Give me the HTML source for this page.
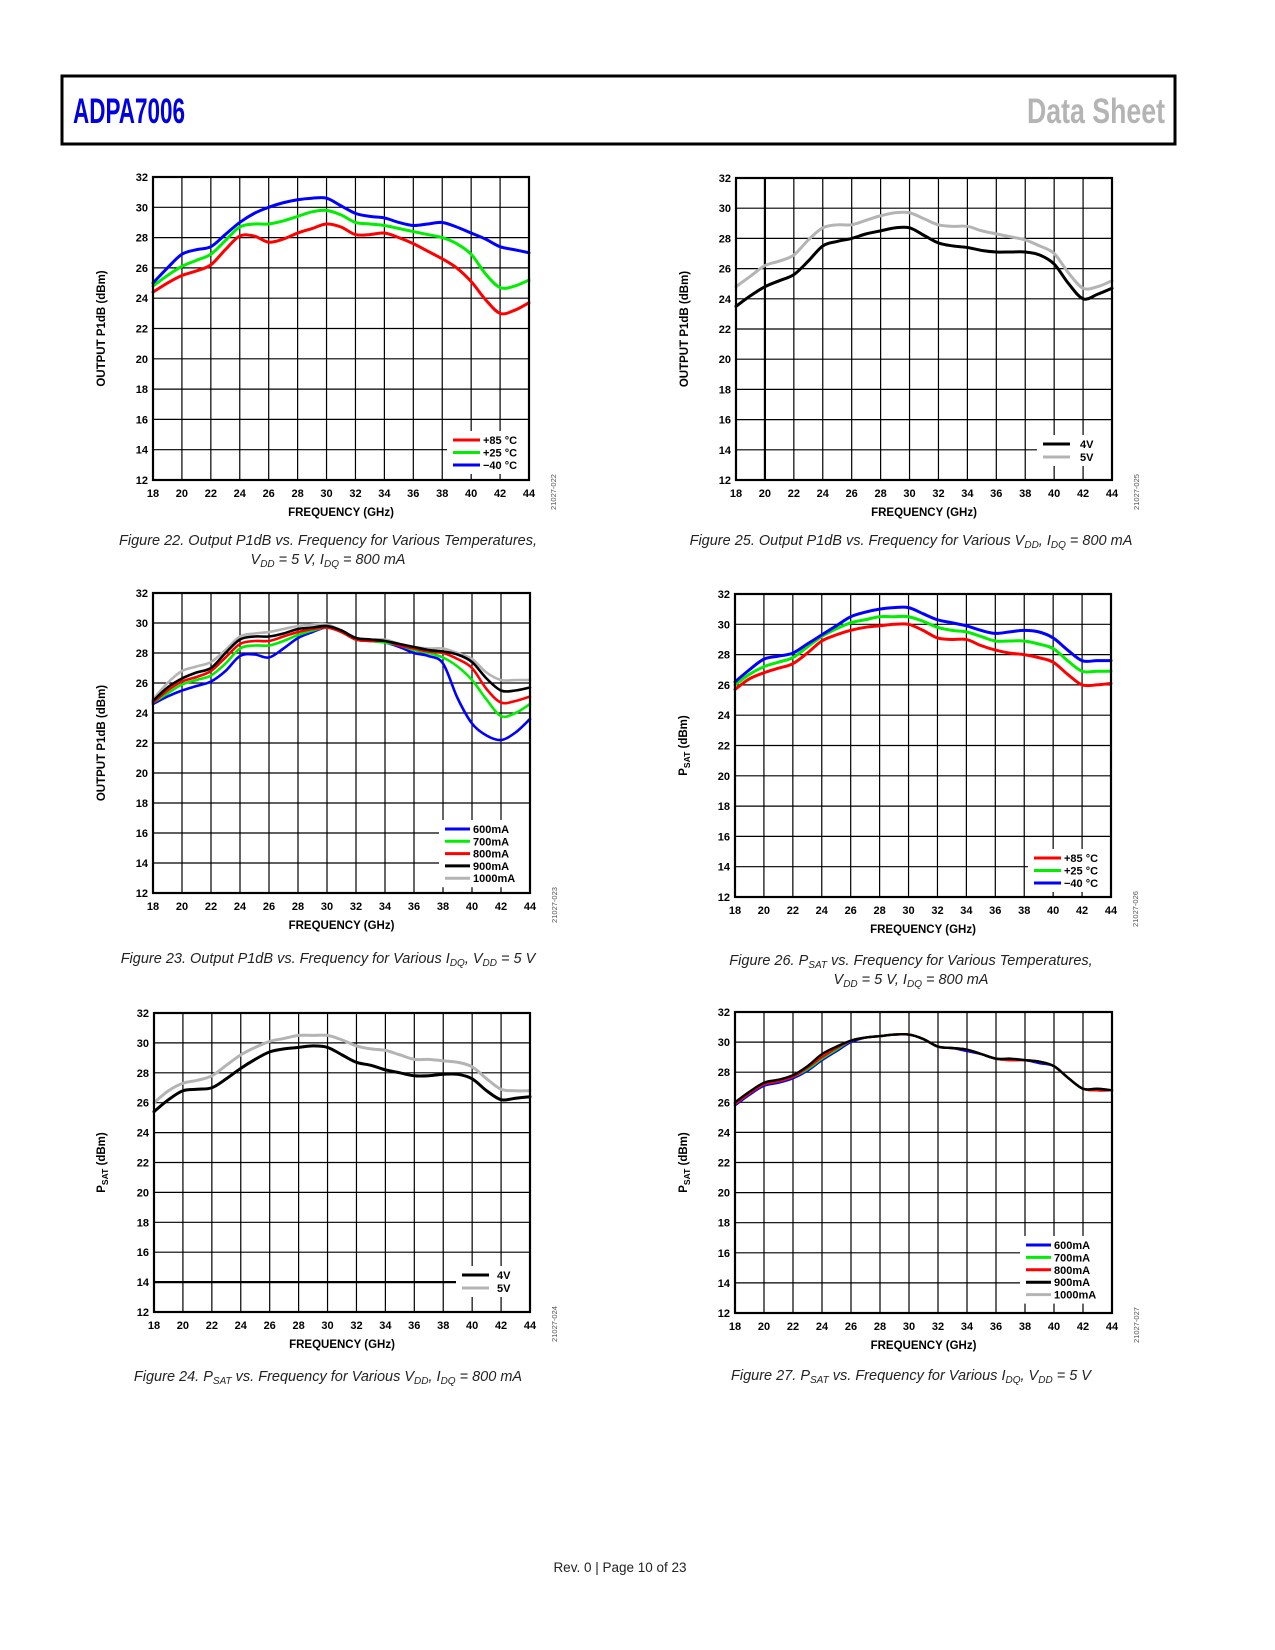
<!DOCTYPE html>
<html><head><meta charset="utf-8"><title>ADPA7006 Data Sheet p10</title>
<style>
html,body{margin:0;padding:0;background:#fff;}
svg{display:block;}
text{font-family:"Liberation Sans",Arial,sans-serif;}
.tick{font-size:11px;font-weight:bold;fill:#000;}
.axt{font-size:11.5px;font-weight:bold;fill:#000;}
.cap{font-size:14.5px;font-style:italic;fill:#222;}
.leg{font-size:11px;font-weight:bold;fill:#000;}
.idn{font-size:7.5px;fill:#555;}
</style></head>
<body>
<svg id="page" width="1275" height="1650" viewBox="0 0 1275 1650" xmlns="http://www.w3.org/2000/svg">
<rect x="62" y="76" width="1113" height="68" fill="none" stroke="#000" stroke-width="3"/>
<text x="73" y="123" font-size="35" font-weight="bold" fill="#0000e0" textLength="112" lengthAdjust="spacingAndGlyphs">ADPA7006</text>
<text x="1027" y="123" font-size="35" font-weight="bold" fill="#b4b4b4" textLength="138" lengthAdjust="spacingAndGlyphs">Data Sheet</text>

<text class="cap" x="328" y="545" text-anchor="middle">Figure 22. Output P1dB vs. Frequency for Various Temperatures,</text>
<text class="cap" x="328" y="564" text-anchor="middle">V<tspan font-size="10" dy="3">DD</tspan><tspan dy="-3"> = 5 V, I</tspan><tspan font-size="10" dy="3">DQ</tspan><tspan dy="-3"> = 800 mA</tspan></text>
<text class="cap" x="911" y="545" text-anchor="middle">Figure 25. Output P1dB vs. Frequency for Various V<tspan font-size="10" dy="3">DD</tspan><tspan dy="-3">, I</tspan><tspan font-size="10" dy="3">DQ</tspan><tspan dy="-3"> = 800 mA</tspan></text>
<text class="cap" x="328" y="963" text-anchor="middle">Figure 23. Output P1dB vs. Frequency for Various I<tspan font-size="10" dy="3">DQ</tspan><tspan dy="-3">, V</tspan><tspan font-size="10" dy="3">DD</tspan><tspan dy="-3"> = 5 V</tspan></text>
<text class="cap" x="911" y="965" text-anchor="middle">Figure 26. P<tspan font-size="10" dy="3">SAT</tspan><tspan dy="-3"> vs. Frequency for Various Temperatures,</tspan></text>
<text class="cap" x="911" y="984" text-anchor="middle">V<tspan font-size="10" dy="3">DD</tspan><tspan dy="-3"> = 5 V, I</tspan><tspan font-size="10" dy="3">DQ</tspan><tspan dy="-3"> = 800 mA</tspan></text>
<text class="cap" x="328" y="1381" text-anchor="middle">Figure 24. P<tspan font-size="10" dy="3">SAT</tspan><tspan dy="-3"> vs. Frequency for Various V</tspan><tspan font-size="10" dy="3">DD</tspan><tspan dy="-3">, I</tspan><tspan font-size="10" dy="3">DQ</tspan><tspan dy="-3"> = 800 mA</tspan></text>
<text class="cap" x="911" y="1380" text-anchor="middle">Figure 27. P<tspan font-size="10" dy="3">SAT</tspan><tspan dy="-3"> vs. Frequency for Various I</tspan><tspan font-size="10" dy="3">DQ</tspan><tspan dy="-3">, V</tspan><tspan font-size="10" dy="3">DD</tspan><tspan dy="-3"> = 5 V</tspan></text>

<text x="620" y="1572" font-size="13.5" fill="#222" text-anchor="middle">Rev. 0 | Page 10 of 23</text>
</svg>
<script>
const freqs=[18,19,20,21,22,23,24,25,26,27,28,29,30,31,32,33,34,35,36,37,38,39,40,41,42,43,44];
const xTickLabels=["18","20","22","24","26","28","30","32","34","36","38","40","42","44"];
const yTickLabels=["12","14","16","18","20","22","24","26","28","30","32"];

const f22_p85=[24.4,25.0,25.5,25.8,26.2,27.2,28.1,28.1,27.7,27.9,28.3,28.6,28.9,28.7,28.2,28.2,28.3,28.0,27.6,27.1,26.6,26.0,25.1,23.9,23.0,23.2,23.7];
const f22_p25=[24.8,25.5,26.1,26.5,26.9,27.8,28.7,28.9,28.9,29.1,29.4,29.7,29.8,29.5,29.0,28.9,28.8,28.6,28.4,28.2,28.0,27.6,26.9,25.6,24.7,24.8,25.2];
const f22_m40=[25.0,26.0,26.9,27.2,27.4,28.2,29.0,29.6,30.0,30.3,30.5,30.6,30.6,30.1,29.6,29.4,29.3,29.0,28.8,28.9,29.0,28.7,28.3,27.9,27.4,27.2,27.0];

const f25_4v=[23.5,24.2,24.8,25.2,25.6,26.5,27.5,27.8,28.0,28.3,28.5,28.7,28.7,28.2,27.7,27.5,27.4,27.2,27.1,27.1,27.1,26.9,26.3,25.0,24.0,24.3,24.7];
const f25_5v=[24.8,25.5,26.2,26.5,26.9,27.9,28.7,28.9,28.9,29.2,29.5,29.7,29.7,29.3,28.9,28.8,28.8,28.5,28.3,28.1,27.9,27.5,27.0,25.7,24.7,24.8,25.2];

const f23_600=[24.6,25.1,25.5,25.8,26.1,26.8,27.8,27.9,27.7,28.3,29.0,29.4,29.7,29.4,28.9,28.8,28.7,28.4,28.0,27.8,27.3,25.0,23.3,22.5,22.2,22.7,23.6];
const f23_700=[24.7,25.3,25.9,26.2,26.5,27.3,28.3,28.5,28.5,28.8,29.2,29.5,29.7,29.4,28.9,28.8,28.7,28.5,28.2,28.0,27.7,27.1,26.2,24.9,23.8,24.0,24.6];
const f23_800=[24.7,25.5,26.1,26.4,26.8,27.7,28.6,28.8,28.8,29.1,29.4,29.6,29.7,29.4,28.9,28.8,28.8,28.5,28.3,28.1,28.0,27.6,27.0,25.6,24.7,24.8,25.1];
const f23_900=[24.8,25.7,26.3,26.7,27.0,28.0,28.9,29.1,29.1,29.3,29.6,29.7,29.8,29.5,29.0,28.9,28.8,28.6,28.4,28.2,28.1,27.9,27.4,26.3,25.5,25.5,25.7];
const f23_1000=[24.9,26.0,26.8,27.1,27.4,28.2,29.1,29.3,29.4,29.6,29.8,29.9,29.9,29.5,29.0,28.9,28.9,28.6,28.4,28.3,28.3,28.0,27.6,26.7,26.2,26.2,26.2];

const f26_p85=[25.7,26.4,26.8,27.1,27.4,28.1,28.9,29.3,29.6,29.8,29.9,30.0,30.0,29.6,29.1,29.0,29.0,28.6,28.3,28.1,28.0,27.8,27.5,26.7,26.0,26.0,26.1];
const f26_p25=[26.0,26.7,27.2,27.5,27.8,28.5,29.2,29.7,30.1,30.3,30.5,30.5,30.5,30.2,29.8,29.6,29.5,29.2,28.9,28.9,28.9,28.7,28.4,27.6,26.9,26.9,26.9];
const f26_m40=[26.2,27.0,27.7,27.9,28.1,28.7,29.3,29.9,30.5,30.8,31.0,31.1,31.1,30.7,30.3,30.1,29.9,29.6,29.4,29.5,29.6,29.5,29.1,28.3,27.6,27.6,27.6];

const f24_4v=[25.4,26.2,26.8,26.9,27.0,27.6,28.3,28.9,29.4,29.6,29.7,29.8,29.7,29.2,28.7,28.5,28.2,28.0,27.8,27.8,27.9,27.9,27.6,26.8,26.2,26.3,26.4];
const f24_5v=[26.0,26.8,27.3,27.5,27.8,28.5,29.2,29.7,30.1,30.3,30.5,30.5,30.5,30.2,29.8,29.6,29.5,29.2,28.9,28.9,28.8,28.7,28.4,27.6,26.9,26.8,26.8];

const f27_600=[25.8,26.5,27.1,27.3,27.6,28.1,28.8,29.4,30.0,30.3,30.4,30.5,30.5,30.2,29.7,29.6,29.4,29.2,28.9,28.8,28.8,28.6,28.4,27.6,26.9,26.8,26.8];
const f27_700=[25.9,26.6,27.2,27.4,27.7,28.2,28.9,29.5,30.1,30.3,30.4,30.5,30.5,30.2,29.7,29.6,29.5,29.2,28.9,28.8,28.8,28.7,28.4,27.6,26.9,26.8,26.8];
const f27_800=[25.9,26.6,27.2,27.4,27.7,28.3,29.0,29.6,30.1,30.3,30.4,30.5,30.5,30.2,29.7,29.6,29.5,29.2,28.9,28.8,28.8,28.7,28.4,27.6,26.9,26.8,26.8];
const f27_900=[26.0,26.7,27.3,27.5,27.8,28.4,29.2,29.7,30.1,30.3,30.4,30.5,30.5,30.2,29.7,29.6,29.5,29.2,28.9,28.9,28.8,28.7,28.4,27.6,26.9,26.9,26.8];
const f27_1000=[26.0,26.7,27.3,27.5,27.8,28.4,29.2,29.7,30.1,30.3,30.4,30.5,30.5,30.2,29.7,29.6,29.5,29.2,28.9,28.9,28.8,28.7,28.4,27.6,26.9,26.9,26.8];

const NS="http://www.w3.org/2000/svg";
const page=document.getElementById('page');
function mk(tag,attrs,parent){const e=document.createElementNS(NS,tag);for(const k in attrs)e.setAttribute(k,attrs[k]);(parent||page).appendChild(e);return e;}

function smooth(pts){
  let d="M"+pts[0][0].toFixed(2)+","+pts[0][1].toFixed(2);
  for(let i=0;i<pts.length-1;i++){
    const p0=pts[Math.max(0,i-1)],p1=pts[i],p2=pts[i+1],p3=pts[Math.min(pts.length-1,i+2)];
    const c1x=p1[0]+(p2[0]-p0[0])/6,c1y=p1[1]+(p2[1]-p0[1])/6;
    const c2x=p2[0]-(p3[0]-p1[0])/6,c2y=p2[1]-(p3[1]-p1[1])/6;
    d+=" C"+c1x.toFixed(2)+","+c1y.toFixed(2)+" "+c2x.toFixed(2)+","+c2y.toFixed(2)+" "+p2[0].toFixed(2)+","+p2[1].toFixed(2);
  }
  return d;
}

const charts=[
 {id:"fig22",L:153,R:529,T:177,B:480,yt:"OUTPUT P1dB (dBm)",psat:false,ytx:105,code:"21027-022",sw:3,
  series:[["plus-85c",f22_p85,"#ff0000","+85 °C"],["plus-25c",f22_p25,"#00ee00","+25 °C"],["minus-40c",f22_m40,"#0000ff","−40 °C"]],
  draw:[0,1,2],leg:{lx:453,y0:440,dy:12.5,ll:27}},
 {id:"fig25",L:736,R:1112,T:178,B:480,yt:"OUTPUT P1dB (dBm)",psat:false,ytx:688,code:"21027-025",sw:3,thickV:20,
  series:[["4v",f25_4v,"#000000","4V"],["5v",f25_5v,"#b4b4b4","5V"]],
  draw:[1,0],leg:{lx:1043,y0:444,dy:13,ll:27,tx:1080}},
 {id:"fig23",L:153,R:530,T:593,B:893,yt:"OUTPUT P1dB (dBm)",psat:false,ytx:105,code:"21027-023",sw:2.6,
  series:[["600ma",f23_600,"#0000ff","600mA"],["700ma",f23_700,"#00ee00","700mA"],["800ma",f23_800,"#ff0000","800mA"],["900ma",f23_900,"#000000","900mA"],["1000ma",f23_1000,"#b4b4b4","1000mA"]],
  draw:[4,0,1,2,3],leg:{lx:445,y0:829,dy:12.3,ll:25}},
 {id:"fig26",L:735,R:1111,T:594,B:897,yt:"PSAT",psat:true,ytx:687,code:"21027-026",sw:3,
  series:[["plus-85c",f26_p85,"#ff0000","+85 °C"],["plus-25c",f26_p25,"#00ee00","+25 °C"],["minus-40c",f26_m40,"#0000ff","−40 °C"]],
  draw:[0,1,2],leg:{lx:1034,y0:858,dy:12.5,ll:27}},
 {id:"fig24",L:154,R:530,T:1013,B:1312,yt:"PSAT",psat:true,ytx:105,code:"21027-024",sw:3,thickH:14,
  series:[["4v",f24_4v,"#000000","4V"],["5v",f24_5v,"#b4b4b4","5V"]],
  draw:[1,0],leg:{lx:462,y0:1275,dy:13,ll:27,tx:497}},
 {id:"fig27",L:735,R:1112,T:1012,B:1313,yt:"PSAT",psat:true,ytx:687,code:"21027-027",sw:2.4,
  series:[["600ma",f27_600,"#0000ff","600mA"],["700ma",f27_700,"#00ee00","700mA"],["800ma",f27_800,"#ff0000","800mA"],["900ma",f27_900,"#000000","900mA"],["1000ma",f27_1000,"#b4b4b4","1000mA"]],
  draw:[4,0,1,2,3],leg:{lx:1026,y0:1245,dy:12.4,ll:25}}
];

charts.forEach(c=>{
  const g=mk('g',{});
  
  
  const xs=f=>c.L+(f-18)/26*(c.R-c.L);
  const ys=v=>c.B-(v-12)/20*(c.B-c.T);
  // grid
  xTickLabels.forEach(t=>{
    const v=+t,x=xs(v);
    const ln=mk('line',{x1:x,y1:c.T,x2:x,y2:c.B,stroke:'#000','stroke-width':(c.thickV===v?2.2:1.2)},g);
    
    
    const tx=mk('text',{x:x,y:c.B+17,'text-anchor':'middle','class':'tick'},g);
    tx.textContent=t;
    
    
  });
  yTickLabels.forEach(t=>{
    const v=+t,y=ys(v);
    const ln=mk('line',{x1:c.L,y1:y,x2:c.R,y2:y,stroke:'#000','stroke-width':(c.thickH===v?2.2:1.2)},g);
    
    
    const tx=mk('text',{x:c.L-5,y:y+4,'text-anchor':'end','class':'tick'},g);
    tx.textContent=t;
    
    
  });
  // legend box background
  const lg=c.leg,n=c.series.length;
  const bg=mk('rect',{x:lg.lx-6,y:lg.y0-9,width:c.R-1-(lg.lx-6),height:(n-1)*lg.dy+18,fill:'#fff'},g);
  
  
  // series
  c.draw.forEach(i=>{
    const s=c.series[i];
    const pts=freqs.map((f,k)=>[xs(f),ys(s[1][k])]);
    const p=mk('path',{d:smooth(pts),fill:'none',stroke:s[2],'stroke-width':c.sw,'stroke-linejoin':'round','stroke-linecap':'round'},g);
    
    
  });
  // frame
  const fr=mk('rect',{x:c.L,y:c.T,width:c.R-c.L,height:c.B-c.T,fill:'none',stroke:'#000','stroke-width':2.2},g);
  
  
  // legend entries
  c.series.forEach((s,i)=>{
    const y=lg.y0+i*lg.dy;
    const e=mk('g',{},g);
    
    
    mk('line',{x1:lg.lx,y1:y,x2:lg.lx+lg.ll,y2:y,stroke:s[2],'stroke-width':3},e);
    const t=mk('text',{x:(lg.tx||lg.lx+lg.ll+3),y:y+4,'class':'leg'},e);
    t.textContent=s[3];
  });
  // axis titles
  const xt=mk('text',{x:(c.L+c.R)/2,y:c.B+36,'text-anchor':'middle','class':'axt'},g);
  xt.textContent='FREQUENCY (GHz)';
  
  
  const cy=(c.T+c.B)/2;
  const yt=mk('text',{x:c.ytx,y:cy,'text-anchor':'middle','class':'axt',transform:'rotate(-90 '+c.ytx+' '+cy+')'},g);
  
  
  if(c.psat){
    const a=mk('tspan',{},yt);a.textContent='P';
    const b=mk('tspan',{'font-size':'8.5',dy:'3'},yt);b.textContent='SAT';
    const d=mk('tspan',{dy:'-3'},yt);d.textContent=' (dBm)';
  } else { yt.textContent=c.yt; }
  const cx=c.R+27,cyy=c.B+12;
  const id=mk('text',{x:cx,y:cyy,'text-anchor':'middle','class':'idn',transform:'rotate(-90 '+cx+' '+cyy+')'},g);
  id.textContent=c.code;
  
  
});
</script>
</body></html>
